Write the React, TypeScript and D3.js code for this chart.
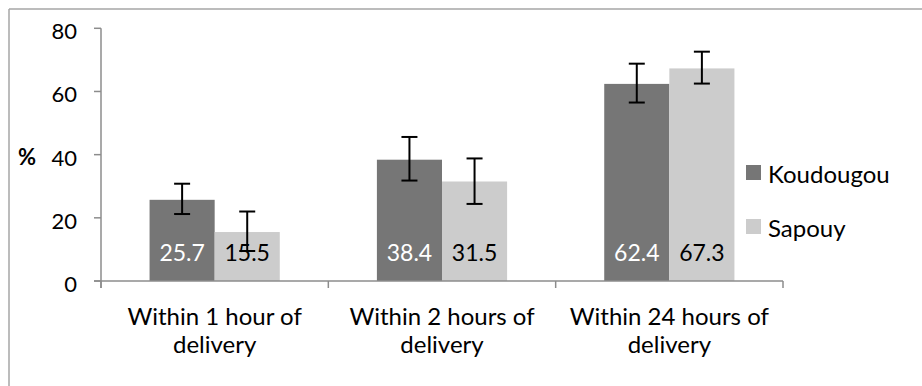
import React from "react";
import * as d3 from "d3";

const categories = ["Within 1 hour of delivery", "Within 2 hours of delivery", "Within 24 hours of delivery"];
const categoryLines = [["Within 1 hour of", "delivery"], ["Within 2 hours of", "delivery"], ["Within 24 hours of", "delivery"]];
const seriesNames = ["Koudougou", "Sapouy"];
const koudougouValues = [25.7, 38.4, 62.4];
const sapouyValues = [15.5, 31.5, 67.3];
const koudougouLow = [21.2, 31.8, 56.5];
const koudougouHigh = [30.8, 45.6, 68.8];
const sapouyLow = [9.5, 24.4, 62.5];
const sapouyHigh = [22.0, 38.8, 72.6];
const yTicks = [0, 20, 40, 60, 80];

const colors = ["#767676", "#cccccc"];
const labelColors = ["#ffffff", "#000000"];
const FONT = "Lato, 'Open Sans', sans-serif";

export default function App() {
  const W = 922, H = 386;
  const x0 = 101, x1End = 783, yBottom = 281, yTop = 28.3;
  const y = d3.scaleLinear().domain([0, 80]).range([yBottom, yTop]);
  const x = d3.scaleBand<string>().domain(categories).range([x0, x1End]).paddingInner(0).paddingOuter(0);
  const xs = d3.scaleBand<string>().domain(seriesNames).range([0, x.bandwidth()]).paddingInner(0).paddingOuter(0.746);
  const values = [koudougouValues, sapouyValues];
  const lows = [koudougouLow, sapouyLow];
  const highs = [koudougouHigh, sapouyHigh];
  const axisColor = "#8c8c8c";
  const boundaries = [x0, ...categories.map((c) => (x(c) as number) + x.bandwidth())];

  return (
    <div style={{ position: "absolute", left: 0, top: 0 }}>
      <svg width={W} height={H} style={{ display: "block", background: "#fff" }}>
        {/* chart border */}
        <line x1={9} y1={9} x2={W} y2={9} stroke="#a6a6a6" strokeWidth={1.5} />
        <line x1={9} y1={9} x2={9} y2={H} stroke="#a6a6a6" strokeWidth={1.5} />

        {/* bars */}
        {categories.map((c, ci) =>
          seriesNames.map((s, si) => {
            const bx = (x(c) as number) + (xs(s) as number);
            const bw = xs.bandwidth();
            const v = values[si][ci];
            return (
              <g key={c + s}>
                <rect x={bx} y={y(v)} width={bw} height={yBottom - y(v)} fill={colors[si]} />
              </g>
            );
          })
        )}

        {/* data labels */}
        {categories.map((c, ci) =>
          seriesNames.map((s, si) => {
            const cx = (x(c) as number) + (xs(s) as number) + xs.bandwidth() / 2;
            return (
              <text key={"l" + c + s} x={cx} y={yBottom - 20} textAnchor="middle" fontFamily={FONT} fontSize={23} fill={labelColors[si]}>
                {values[si][ci].toFixed(1)}
              </text>
            );
          })
        )}

        {/* error bars */}
        {categories.map((c, ci) =>
          seriesNames.map((s, si) => {
            const cx = (x(c) as number) + (xs(s) as number) + xs.bandwidth() / 2;
            const lo = y(lows[si][ci]);
            const hi = y(highs[si][ci]);
            return (
              <g key={"e" + c + s} stroke="#000" strokeWidth={2}>
                <line x1={cx} x2={cx} y1={lo} y2={hi} />
                <line x1={cx - 8} x2={cx + 8} y1={lo} y2={lo} />
                <line x1={cx - 8} x2={cx + 8} y1={hi} y2={hi} />
              </g>
            );
          })
        )}

        {/* y axis */}
        <line x1={x0} x2={x0} y1={yTop} y2={yBottom + 7} stroke={axisColor} strokeWidth={1.5} />
        {yTicks.map((t) => (
          <g key={"yt" + t}>
            <line x1={x0 - 7} x2={x0} y1={y(t)} y2={y(t)} stroke={axisColor} strokeWidth={1.5} />
            <text x={77} y={y(t) + 11} textAnchor="end" fontFamily={FONT} fontSize={22} fill="#000">
              {t}
            </text>
          </g>
        ))}
        <text x={18} y={y(40) + 10} fontFamily={FONT} fontSize={22} fontWeight="bold" fill="#000">%</text>

        {/* x axis */}
        <line x1={x0 - 7} x2={x1End} y1={yBottom} y2={yBottom} stroke={axisColor} strokeWidth={1.5} />
        {boundaries.map((b, i) => (
          <line key={"xt" + i} x1={b} x2={b} y1={yBottom} y2={yBottom + 7} stroke={axisColor} strokeWidth={1.5} />
        ))}
        {categories.map((c, ci) => (
          <text key={"xl" + c} x={(x(c) as number) + x.bandwidth() / 2} textAnchor="middle" fontFamily={FONT} fontSize={24} fill="#000">
            {categoryLines[ci].map((ln, li) => (
              <tspan key={li} x={(x(c) as number) + x.bandwidth() / 2} y={325 + li * 28}>
                {ln}
              </tspan>
            ))}
          </text>
        ))}

        {/* legend */}
        {seriesNames.map((s, si) => (
          <g key={"lg" + s}>
            <rect x={746} y={165 + si * 54} width={15} height={15} fill={colors[si]} />
            <text x={768} y={183.3 + si * 54} fontFamily={FONT} fontSize={24} fill="#000">
              {s}
            </text>
          </g>
        ))}
      </svg>
    </div>
  );
}
